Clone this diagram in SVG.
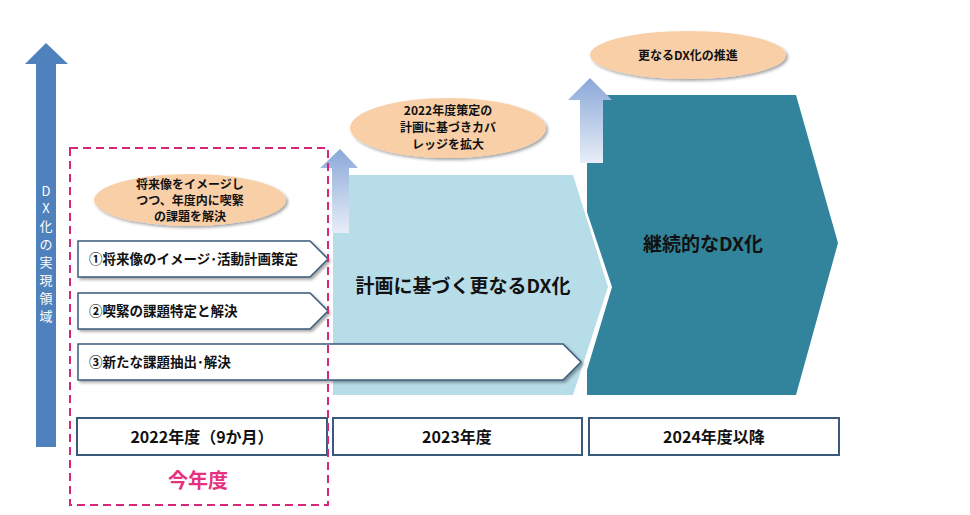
<svg xmlns="http://www.w3.org/2000/svg" width="970" height="515" viewBox="0 0 970 515">
<style>
text{font-family:"Noto Sans CJK JP","Noto Sans CJK SC",sans-serif;font-weight:bold;fill:#111}
.ax{fill:#fff;font-weight:normal;font-size:13px}
.bal{fill:#f9cfa8;filter:url(#sh)}
.pent{fill:#fff;stroke:#3b5a7a;stroke-width:1.5;filter:url(#sh)}
.yr{fill:#fff;stroke:#3b5a7a;stroke-width:2}
.ga{fill:url(#g)}
</style>
<defs>
<linearGradient id="g" x1="0" y1="0" x2="0" y2="1"><stop offset="0" stop-color="#8aa8d8"/><stop offset="1" stop-color="#e8eef8"/></linearGradient>
<filter id="sh" x="-10%" y="-20%" width="130%" height="150%"><feDropShadow dx="2" dy="2" stdDeviation="1.5" flood-color="#000" flood-opacity="0.35"/></filter>
</defs>
<g id="axis">
<polygon points="36,447 36,64 25,64 46,43 68,64 56,64 56,447" fill="#4f81bd"/>
<text class="ax" x="46" y="196" text-anchor="middle">D</text>
<text class="ax" x="46" y="213" text-anchor="middle">X</text>
<text class="ax" x="46" y="231" text-anchor="middle">化</text>
<text class="ax" x="46" y="249" text-anchor="middle">の</text>
<text class="ax" x="46" y="267" text-anchor="middle">実</text>
<text class="ax" x="46" y="285" text-anchor="middle">現</text>
<text class="ax" x="46" y="303" text-anchor="middle">領</text>
<text class="ax" x="46" y="321" text-anchor="middle">域</text>
</g>
<g id="stage2023">
<polygon points="333,175 573,175 608,287 573,395 333,395" fill="#b7dde8"/>
<text x="463" y="293" font-size="19" text-anchor="middle">計画に基づく更なるDX化</text>
</g>
<g id="stage2024">
<polygon points="587,95 796,95 838,243 796,395 587,395 587,370 612,287 587,212" fill="#31849b"/>
<text x="703" y="251" font-size="19" text-anchor="middle">継続的なDX化</text>
</g>
<g id="up1"><polygon class="ga" points="332,233 332,168 320,168 340,149 358,168 349,168 349,233"/></g>
<g id="up2"><polygon class="ga" points="580,163 580,100 568,100 590,78 612,100 603,100 603,163"/></g>
<g id="b1"><ellipse class="bal" cx="190" cy="200" rx="96" ry="26"/>
<text x="190" y="189" font-size="12" text-anchor="middle">将来像をイメージし</text>
<text x="190" y="205" font-size="12" text-anchor="middle">つつ、年度内に喫緊</text>
<text x="190" y="221" font-size="12" text-anchor="middle">の課題を解決</text></g>
<g id="b2"><ellipse class="bal" cx="448" cy="128" rx="98" ry="30"/>
<text x="448" y="115" font-size="12" text-anchor="middle">2022年度策定の</text>
<text x="448" y="132" font-size="12" text-anchor="middle">計画に基づきカバ</text>
<text x="448" y="149" font-size="12" text-anchor="middle">レッジを拡大</text></g>
<g id="b3"><ellipse class="bal" cx="688" cy="55" rx="98" ry="24"/>
<text x="688" y="60" font-size="12" text-anchor="middle">更なるDX化の推進</text></g>
<g id="t1"><polygon class="pent" points="78,241 310,241 328,259 310,277 78,277"/>
<text x="89" y="264" font-size="13.5">①将来像のイメージ･活動計画策定</text></g>
<g id="t2"><polygon class="pent" points="78,293 310,293 328,311 310,329 78,329"/>
<text x="89" y="316" font-size="13.5">②喫緊の課題特定と解決</text></g>
<g id="t3"><polygon class="pent" points="78,344 563,344 581,362 563,380 78,380"/>
<text x="89" y="367" font-size="13.5">③新たな課題抽出･解決</text></g>
<g id="y1"><rect class="yr" x="77" y="418" width="250" height="37"/><text x="202" y="443" font-size="16" text-anchor="middle">2022年度（9か月）</text></g>
<g id="y2"><rect class="yr" x="333" y="418" width="249" height="37"/><text x="457" y="443" font-size="16" text-anchor="middle">2023年度</text></g>
<g id="y3"><rect class="yr" x="589" y="418" width="250" height="37"/><text x="714" y="443" font-size="16" text-anchor="middle">2024年度以降</text></g>
<g id="thisyear">
<rect x="70" y="148" width="258" height="357" fill="none" stroke="#d6267a" stroke-width="2" stroke-dasharray="8,5"/>
<text x="198" y="488" font-size="20" text-anchor="middle" style="fill:#e6317f">今年度</text>
</g>
</svg>
